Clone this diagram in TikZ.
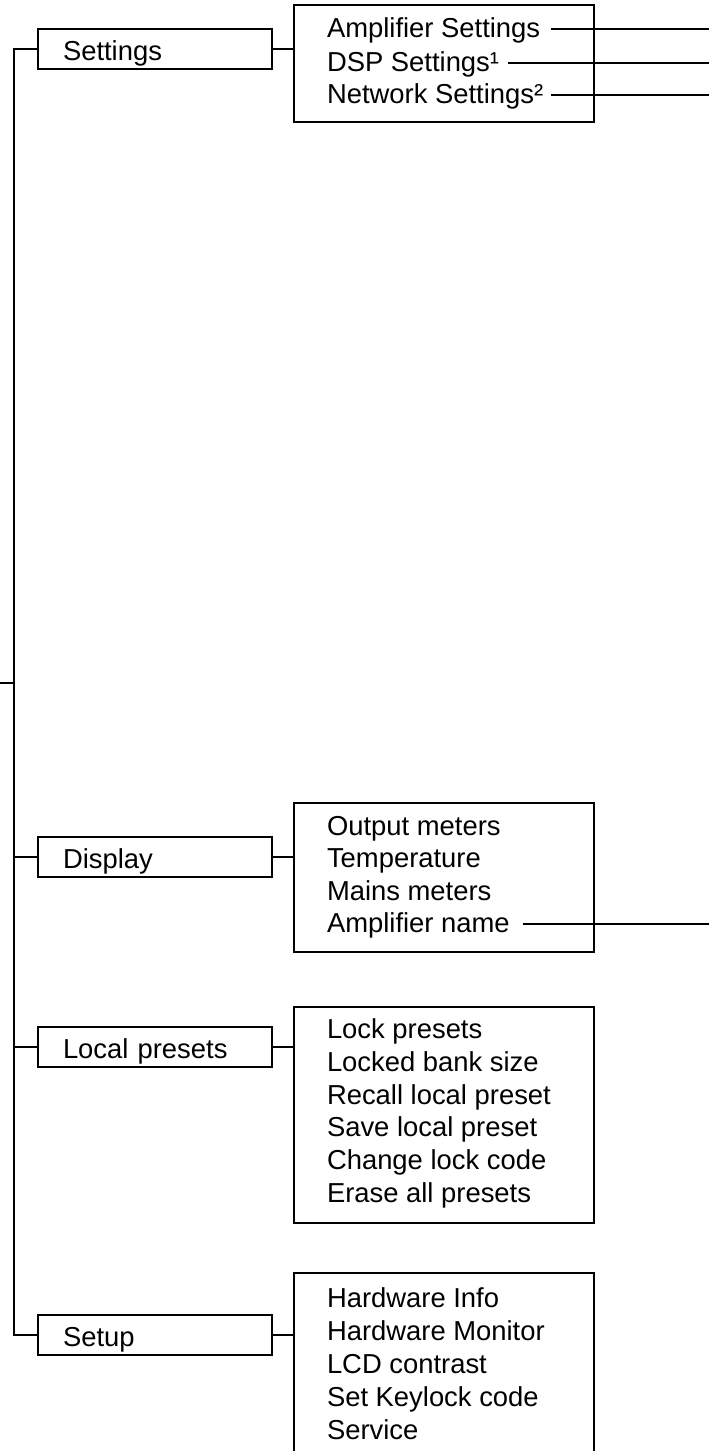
\documentclass[tikz,border=0pt]{standalone}
\usepackage{fontspec}
\setmainfont{Liberation Sans}
\usetikzlibrary{calc}
\begin{document}
\begin{tikzpicture}[x=1pt,y=-1pt,
  font=\fontsize{27.4}{33}\selectfont,
  box/.style={draw, line width=2.8pt, outer sep=0pt, minimum width=234pt, minimum height=40pt,
    text width=184pt, inner xsep=25pt, inner ysep=0pt, align=left,
    text height=22pt, text depth=0pt, anchor=west},
  menubox/.style={draw, line width=2.8pt, outer sep=0pt, minimum width=300pt, anchor=north west, inner sep=0pt},
  item/.style={anchor=base west, inner sep=0pt, outer sep=0pt},
  conn/.style={line width=2.4pt}]
\useasboundingbox (0,0) rectangle (709,1451);
\clip (0,0) rectangle (709,1451);

\coordinate (R) at (712,0);
\coordinate (L) at (0,683);
\coordinate (T) at (14,683);

% small boxes
\node[box] (sset) at (38,49) {Settings};
\node[box] (sdisp) at (38,857) {Display};
\node[box] (sloc) at (38,1047) {Local presets};
\node[box] (ssetup) at (38,1335) {Setup};

% menu boxes
\node[menubox, minimum height=117pt] (mset) at (294,5) {};
\node[menubox, minimum height=149pt] (mdisp) at (294,803) {};
\node[menubox, minimum height=216pt] (mloc) at (294,1007) {};
\node[menubox, minimum height=190pt] (msetup) at (294,1273) {};

% items
\node[item] (a1) at (327,37.5) {Amplifier Settings};
\node[item] (a2) at (327,71.5) {DSP Settings¹};
\node[item] (a3) at (327,103.5) {Network Settings²};

\node[item] (b1) at (327,835) {Output meters};
\node[item] (b2) at (327,867.5) {Temperature};
\node[item] (b3) at (327,900) {Mains meters};
\node[item] (b4) at (327,932.5) {Amplifier name};

\node[item] (c1) at (327,1038) {Lock presets};
\node[item] (c2) at (327,1071) {Locked bank size};
\node[item] (c3) at (327,1104) {Recall local preset};
\node[item] (c4) at (327,1136.5) {Save local preset};
\node[item] (c5) at (327,1169) {Change lock code};
\node[item] (c6) at (327,1202) {Erase all presets};

\node[item] (d1) at (327,1307) {Hardware Info};
\node[item] (d2) at (327,1340) {Hardware Monitor};
\node[item] (d3) at (327,1373) {LCD contrast};
\node[item] (d4) at (327,1406) {Set Keylock code};
\node[item] (d5) at (327,1439) {Service};

% trunk
\draw[conn] (sset.west) -- ++(-24,0) |- (ssetup.west);
\draw[conn] (L) -- (T);
\draw[conn] (sdisp.west) -- (sdisp.west -| T);
\draw[conn] (sloc.west) -- (sloc.west -| T);

% small -> menu
\draw[conn] (sset.east) -- (sset.east -| mset.west);
\draw[conn] (sdisp.east) -- (sdisp.east -| mdisp.west);
\draw[conn] (sloc.east) -- (sloc.east -| mloc.west);
\draw[conn] (ssetup.east) -- (ssetup.east -| msetup.west);

% outgoing lines
\foreach \n/\g in {a1/11, a2/9, a3/8, b4/13}{
  \draw[conn] ($(\n.base east)+(\g,-8.5)$) -- ($(\n.base east -| R)+(0,-8.5)$);
}
\end{tikzpicture}
\end{document}
